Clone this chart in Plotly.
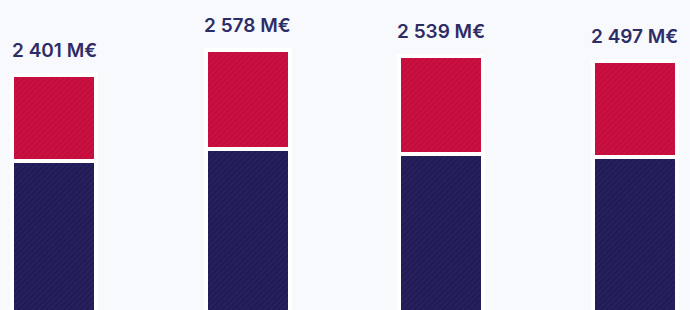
import plotly.graph_objects as go

categories = ["A", "B", "C", "D"]
navy_values = [1792, 1877, 1842, 1820]
red_values = [609, 701, 697, 677]
totals = [2401, 2578, 2539, 2497]
total_labels = ["2 401 M€", "2 578 M€", "2 539 M€", "2 497 M€"]

BG = "#f8f9fc"
NAVY = "#262060"
RED = "#cc1042"
TEXT = "#2e2c66"

x_idx = list(range(len(categories)))

fig = go.Figure()
fig.add_trace(go.Bar(
    x=x_idx, y=navy_values, width=0.436,
    marker=dict(color=NAVY, line=dict(color="#ffffff", width=4),
                pattern=dict(shape="/", bgcolor=NAVY, fgcolor="#18143f", size=4, solidity=0.4)),
    hoverinfo="skip", showlegend=False,
))
fig.add_trace(go.Bar(
    x=x_idx, y=red_values, width=0.436,
    marker=dict(color=RED, line=dict(color="#ffffff", width=4),
                pattern=dict(shape="/", bgcolor=RED, fgcolor="#ad0b36", size=4, solidity=0.4)),
    hoverinfo="skip", showlegend=False,
))

for i, (t, lab) in enumerate(zip(totals, total_labels)):
    fig.add_annotation(x=i, y=t, text=lab, showarrow=False, yanchor="bottom",
                       yshift=11, font=dict(family="Inter", size=19, color=TEXT, weight=600))

fig.update_layout(
    barmode="stack",
    width=690, height=310,
    margin=dict(l=0, r=0, t=0, b=0),
    paper_bgcolor=BG, plot_bgcolor=BG,
    xaxis=dict(range=[-0.2804, 3.2855], visible=False),
    yaxis=dict(range=[737, 2932], visible=False),
)

fig.write_html("out.html")
